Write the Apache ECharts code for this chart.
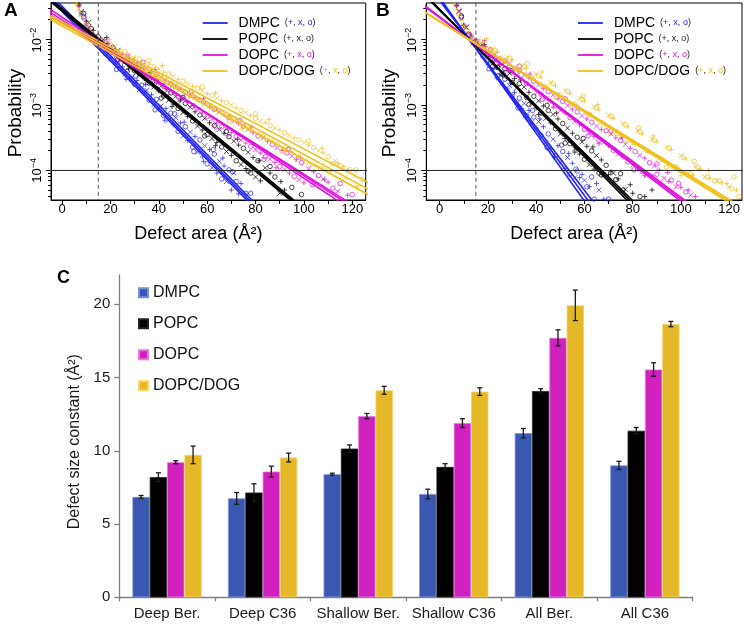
<!DOCTYPE html>
<html><head><meta charset="utf-8">
<script src="https://cdn.jsdelivr.net/npm/echarts@6.0.0/dist/echarts.min.js"></script>
<style>html,body{margin:0;padding:0;background:#fff}#c{width:744px;height:625px}</style>
</head><body><div id="c"></div>
<script>
// ---------- Panel A data (defect area, probability) ----------
const dmpcA_plus = [[7,3.39e-2],[10,1.70e-2],[13,1.17e-2],[16,7.41e-3],[19,6.76e-3],[22,4.47e-3],[25,3.89e-3],[28,2.57e-3],[31,2.40e-3],[34,1.55e-3],[37,1.45e-3],[40,8.71e-4],[43,8.91e-4],[46,5.01e-4],[49,5.37e-4],[52,2.88e-4],[55,3.31e-4],[58,1.62e-4],[61,2.09e-4],[64,9.12e-5],[67,1.17e-4],[70,5.01e-5],[74,6.31e-5]];
const dmpcA_plus2 = [[18.5,7.94e-3],[26.5,2.51e-3],[34.5,2.09e-3],[42.5,5.89e-4],[50.5,5.50e-4],[58.5,1.38e-4],[66.5,1.55e-4],[73,4.37e-5]];
const dmpcA_cross = [[8,2.51e-2],[11,1.58e-2],[14,9.33e-3],[17,7.76e-3],[20,5.25e-3],[23,4.68e-3],[26,3.02e-3],[29,2.75e-3],[32,1.74e-3],[35,1.70e-3],[38,1.02e-3],[41,9.77e-4],[44,5.89e-4],[47,6.46e-4],[50,3.39e-4],[53,3.89e-4],[56,1.91e-4],[59,2.40e-4],[62,1.10e-4],[65,1.38e-4],[68,6.76e-5],[71,9.12e-5]];
const dmpcA_circle = [[9,2.29e-2],[12,1.23e-2],[15,9.33e-3],[18,6.17e-3],[21,5.62e-3],[24,3.63e-3],[27,3.31e-3],[30,2.09e-3],[33,2.04e-3],[36,1.20e-3],[39,1.23e-3],[42,6.92e-4],[45,7.59e-4],[48,3.98e-4],[51,4.68e-4],[54,2.29e-4],[57,2.95e-4],[60,1.26e-4],[63,1.78e-4],[66,7.41e-5],[69,1.02e-4],[72,6.76e-5],[76,4.47e-5]];
const dmpcA_circle2 = [[22.5,3.55e-3],[30.5,2.82e-3],[38.5,8.51e-4],[46.5,7.41e-4],[54.5,1.95e-4],[62.5,2.09e-4],[70.5,9.55e-5],[78,4.47e-5]];
const popcA_plus = [[7,3.55e-2],[10,1.95e-2],[13,1.41e-2],[16,9.77e-3],[19,8.91e-3],[22,6.31e-3],[25,6.03e-3],[28,3.98e-3],[31,3.80e-3],[34,2.57e-3],[37,2.63e-3],[40,1.66e-3],[43,1.78e-3],[46,1.05e-3],[49,1.20e-3],[52,6.76e-4],[55,7.94e-4],[58,4.17e-4],[61,5.37e-4],[64,2.69e-4],[67,3.72e-4],[70,1.70e-4],[73,2.45e-4],[76,1.07e-4],[79,1.58e-4],[82,6.92e-5],[86,9.12e-5],[92,5.01e-5]];
const popcA_plus2 = [[18.5,1.10e-2],[27.5,3.63e-3],[36.5,3.16e-3],[45.5,9.55e-4],[54.5,1.00e-3],[63.5,2.40e-4],[72.5,3.02e-4],[81.5,1.41e-4],[90.5,6.76e-5]];
const popcA_cross = [[8,2.75e-2],[11,1.86e-2],[14,1.17e-2],[17,1.02e-2],[20,7.24e-3],[23,6.92e-3],[26,4.68e-3],[29,4.47e-3],[32,2.95e-3],[35,3.02e-3],[38,1.91e-3],[41,2.00e-3],[44,1.20e-3],[47,1.38e-3],[50,7.76e-4],[53,9.33e-4],[56,4.79e-4],[59,6.31e-4],[62,3.09e-4],[65,4.27e-4],[68,1.95e-4],[71,2.82e-4],[74,1.23e-4],[77,1.91e-4],[80,7.94e-5],[84,1.10e-4],[90,4.47e-5]];
const popcA_circle = [[9,2.57e-2],[12,1.51e-2],[15,1.12e-2],[18,8.32e-3],[21,7.76e-3],[24,5.37e-3],[27,5.13e-3],[30,3.39e-3],[33,3.47e-3],[36,2.19e-3],[39,2.34e-3],[42,1.38e-3],[45,1.55e-3],[48,8.91e-4],[51,1.07e-3],[54,5.75e-4],[57,7.08e-4],[60,3.55e-4],[63,4.90e-4],[66,2.29e-4],[69,3.31e-4],[72,1.41e-4],[75,2.19e-4],[78,9.12e-5],[81,1.41e-4],[88,7.94e-5],[99,4.27e-5]];
const popcA_circle2 = [[23,5.01e-3],[32,4.27e-3],[41,1.29e-3],[50,1.32e-3],[59,3.39e-4],[68,3.98e-4],[77,9.77e-5],[86,1.15e-4],[95,5.50e-5]];
const dopcA_plus = [[7,3.31e-2],[10,1.78e-2],[13,1.23e-2],[16,8.91e-3],[19,8.51e-3],[22,6.17e-3],[25,6.03e-3],[28,4.37e-3],[31,4.47e-3],[34,3.09e-3],[37,3.31e-3],[40,2.19e-3],[43,2.40e-3],[46,1.55e-3],[49,1.78e-3],[52,1.10e-3],[55,1.32e-3],[58,7.59e-4],[61,9.55e-4],[64,5.37e-4],[67,7.08e-4],[70,3.80e-4],[73,5.25e-4],[76,2.63e-4],[79,3.80e-4],[82,1.86e-4],[85,2.82e-4],[88,1.32e-4],[91,2.04e-4],[94,9.12e-5],[97,1.48e-4],[100,6.46e-5],[104,9.55e-5],[110,6.61e-5],[118,4.17e-5]];
const dopcA_plus2 = [[18.5,1.02e-2],[28.5,3.72e-3],[38.5,3.55e-3],[48.5,1.15e-3],[58.5,1.26e-3],[68.5,3.47e-4],[78.5,4.68e-4],[88.5,1.10e-4],[98.5,1.58e-4],[108.5,7.24e-5]];
const dopcA_cross = [[8,2.63e-2],[11,1.48e-2],[14,1.05e-2],[17,9.33e-3],[20,6.92e-3],[23,6.61e-3],[26,4.90e-3],[29,5.01e-3],[32,3.55e-3],[35,3.63e-3],[38,2.45e-3],[41,2.69e-3],[44,1.74e-3],[47,1.95e-3],[50,1.23e-3],[53,1.45e-3],[56,8.51e-4],[59,1.07e-3],[62,6.03e-4],[65,7.94e-4],[68,4.27e-4],[71,5.75e-4],[74,2.95e-4],[77,4.27e-4],[80,2.09e-4],[83,3.16e-4],[86,1.48e-4],[89,2.24e-4],[92,1.02e-4],[95,1.66e-4],[98,7.24e-5],[102,1.07e-4],[108,7.41e-5],[114,4.79e-5]];
const dopcA_circle = [[9,2.19e-2],[12,1.26e-2],[15,1.00e-2],[18,7.76e-3],[21,7.59e-3],[24,5.50e-3],[27,5.62e-3],[30,3.89e-3],[33,4.07e-3],[36,2.75e-3],[39,2.95e-3],[42,1.95e-3],[45,2.14e-3],[48,1.35e-3],[51,1.58e-3],[54,9.55e-4],[57,1.20e-3],[60,6.76e-4],[63,8.71e-4],[66,4.68e-4],[69,6.46e-4],[72,3.31e-4],[75,4.79e-4],[78,2.34e-4],[81,3.39e-4],[84,1.62e-4],[87,2.51e-4],[90,1.15e-4],[93,1.86e-4],[96,8.13e-5],[99,1.32e-4],[106,8.32e-5],[112,5.37e-5],[120,4.27e-5]];
const dopcA_circle2 = [[23.5,4.90e-3],[33.5,4.57e-3],[43.5,1.51e-3],[53.5,1.62e-3],[63.5,4.68e-4],[73.5,5.89e-4],[83.5,1.48e-4],[93.5,2.09e-4],[103.5,6.03e-5],[115,6.31e-5]];
const dogA_plus = [[6,3.55e-2],[9,2.09e-2],[12,1.35e-2],[15,9.77e-3],[18,9.33e-3],[21,7.08e-3],[24,7.24e-3],[27,5.25e-3],[30,5.50e-3],[33,3.98e-3],[36,4.27e-3],[39,2.95e-3],[42,3.24e-3],[45,2.19e-3],[48,2.51e-3],[51,1.66e-3],[54,1.95e-3],[57,1.23e-3],[60,1.51e-3],[63,9.12e-4],[66,1.17e-3],[69,6.76e-4],[72,9.12e-4],[75,5.01e-4],[78,6.92e-4],[81,3.72e-4],[84,5.37e-4],[87,2.75e-4],[90,4.17e-4],[93,2.04e-4],[96,3.16e-4],[99,1.51e-4],[102,2.45e-4],[105,1.17e-4],[108,1.86e-4],[111,9.77e-5],[114,1.29e-4],[118,1.02e-4],[122,5.62e-5]];
const dogA_plus2 = [[19.5,1.02e-2],[30.5,3.89e-3],[41.5,4.07e-3],[52.5,1.32e-3],[63.5,1.55e-3],[74.5,4.37e-4],[85.5,6.03e-4],[96.5,1.45e-4],[107.5,2.19e-4],[116.5,1.15e-4]];
const dogA_cross = [[7,3.02e-2],[10,1.74e-2],[13,1.12e-2],[16,1.02e-2],[19,7.76e-3],[22,7.94e-3],[25,5.75e-3],[28,6.03e-3],[31,4.27e-3],[34,4.68e-3],[37,3.24e-3],[40,3.63e-3],[43,2.40e-3],[46,2.75e-3],[49,1.78e-3],[52,2.14e-3],[55,1.32e-3],[58,1.66e-3],[61,9.77e-4],[64,1.29e-3],[67,7.24e-4],[70,1.00e-3],[73,5.50e-4],[76,7.76e-4],[79,3.98e-4],[82,5.75e-4],[85,2.95e-4],[88,4.47e-4],[91,2.19e-4],[94,3.47e-4],[97,1.66e-4],[100,2.69e-4],[103,1.23e-4],[106,2.00e-4],[109,1.02e-4],[113,1.41e-4],[117,7.76e-5],[121,8.32e-5]];
const dogA_circle = [[8,2.45e-2],[11,1.48e-2],[14,1.07e-2],[17,8.71e-3],[20,8.51e-3],[23,6.46e-3],[26,6.61e-3],[29,4.79e-3],[32,5.13e-3],[35,3.55e-3],[38,3.89e-3],[41,2.63e-3],[44,3.02e-3],[47,2.00e-3],[50,2.34e-3],[53,1.48e-3],[56,1.82e-3],[59,1.10e-3],[62,1.41e-3],[65,8.13e-4],[68,1.10e-3],[71,6.03e-4],[74,8.32e-4],[77,4.47e-4],[80,6.31e-4],[83,3.31e-4],[86,4.90e-4],[89,2.45e-4],[92,3.80e-4],[95,1.82e-4],[98,2.95e-4],[101,1.35e-4],[104,2.24e-4],[107,1.07e-4],[110,1.62e-4],[115,1.17e-4],[119,1.02e-4],[124,7.24e-5]];
const dogA_circle2 = [[25,5.01e-3],[36,4.90e-3],[47,1.70e-3],[58,1.91e-3],[69,5.75e-4],[80,7.41e-4],[91,1.95e-4],[102,2.82e-4],[112,1.26e-4],[121.5,1.02e-4]];
// fitted lines, panel A (two end points each)
const dmpcA_fits = [[[-10,0.0658],[90,1.07e-5]],[[-10,0.0718],[90,1.16e-5]],[[-10,0.0791],[90,1.28e-5]]];
const popcA_fits = [[[-10,0.0562],[110,1.16e-5]],[[-10,0.0590],[110,1.22e-5]],[[-10,0.0621],[110,1.29e-5]]];
const dopcA_fits = [[[-10,0.0396],[135,1.04e-5]],[[-10,0.0355],[135,1.21e-5]],[[-10,0.0321],[135,1.34e-5]]];
const dogA_fits  = [[[-10,0.0301],[135,4.43e-5]],[[-10,0.0283],[135,3.48e-5]],[[-10,0.0263],[135,2.87e-5]]];

// ---------- Panel B data ----------
const dmpcB_plus = [[7,3.47e-2],[10,1.70e-2],[13,1.10e-2],[16,7.08e-3],[19,5.75e-3],[22,3.55e-3],[25,3.02e-3],[28,1.78e-3],[31,1.58e-3],[34,8.91e-4],[37,8.32e-4],[40,4.47e-4],[43,4.68e-4],[46,2.14e-4],[49,2.40e-4],[52,1.07e-4],[55,1.29e-4],[58,7.76e-5],[62,5.62e-5],[68,3.63e-5]];
const dmpcB_plus2 = [[17.5,8.13e-3],[23.5,2.63e-3],[29.5,2.19e-3],[35.5,6.46e-4],[41.5,6.17e-4],[47.5,1.58e-4],[53.5,1.82e-4],[59,8.71e-5],[65,6.31e-5]];
const dmpcB_cross = [[8,2.82e-2],[11,1.55e-2],[14,9.12e-3],[17,7.24e-3],[20,4.47e-3],[23,3.80e-3],[26,2.19e-3],[29,2.00e-3],[32,1.10e-3],[35,1.07e-3],[38,5.37e-4],[41,5.62e-4],[44,2.69e-4],[47,3.02e-4],[50,1.32e-4],[53,1.58e-4],[56,7.76e-5],[60,7.08e-5],[66,5.01e-5]];
const dmpcB_circle = [[9,2.24e-2],[12,1.17e-2],[15,8.91e-3],[18,5.62e-3],[21,4.79e-3],[24,2.82e-3],[27,2.51e-3],[30,1.38e-3],[33,1.29e-3],[36,6.92e-4],[39,6.61e-4],[42,3.47e-4],[45,3.63e-4],[48,1.70e-4],[51,1.95e-4],[54,8.71e-5],[57,9.77e-5],[61,5.62e-5],[64,3.63e-5]];
const dmpcB_circle2 = [[20.5,3.63e-3],[26.5,2.95e-3],[32.5,9.12e-4],[38.5,8.32e-4],[44.5,2.24e-4],[50.5,2.45e-4],[56.5,1.05e-4],[63,7.94e-5],[70,3.63e-5]];
const popcB_plus = [[7,3.39e-2],[10,1.66e-2],[13,1.15e-2],[16,7.76e-3],[19,6.92e-3],[22,4.57e-3],[25,4.27e-3],[28,2.63e-3],[31,2.57e-3],[34,1.55e-3],[37,1.58e-3],[40,9.12e-4],[43,9.77e-4],[46,5.37e-4],[49,6.17e-4],[52,3.09e-4],[55,3.72e-4],[58,1.78e-4],[61,2.34e-4],[64,1.05e-4],[67,1.45e-4],[70,8.71e-5],[74,7.41e-5],[80,4.47e-5],[85,3.98e-5]];
const popcB_plus2 = [[18.5,8.51e-3],[26,2.82e-3],[33.5,2.45e-3],[41,7.24e-4],[48.5,7.59e-4],[56,1.91e-4],[63.5,2.29e-4],[71,9.55e-5],[79,6.03e-5],[88,5.01e-5]];
const popcB_cross = [[8,2.75e-2],[11,1.58e-2],[14,9.33e-3],[17,8.13e-3],[20,5.37e-3],[23,5.01e-3],[26,3.16e-3],[29,3.09e-3],[32,1.86e-3],[35,1.91e-3],[38,1.07e-3],[41,1.17e-3],[44,6.31e-4],[47,7.24e-4],[50,3.63e-4],[53,4.47e-4],[56,2.14e-4],[59,2.75e-4],[62,1.23e-4],[65,1.70e-4],[68,8.71e-5],[72,9.12e-5],[77,5.13e-5]];
const popcB_circle = [[9,2.34e-2],[12,1.23e-2],[15,9.55e-3],[18,6.61e-3],[21,5.89e-3],[24,3.80e-3],[27,3.63e-3],[30,2.24e-3],[33,2.14e-3],[36,1.32e-3],[39,1.38e-3],[42,7.59e-4],[45,8.32e-4],[48,4.37e-4],[51,5.25e-4],[54,2.57e-4],[57,3.24e-4],[60,1.48e-4],[63,2.00e-4],[66,9.12e-5],[69,1.20e-4],[73,7.24e-5],[76,5.01e-5]];
const popcB_circle2 = [[22,3.98e-3],[29.5,3.39e-3],[37,1.02e-3],[44.5,1.00e-3],[52,2.63e-4],[59.5,3.09e-4],[67,8.51e-5],[75,8.91e-5],[83,3.98e-5]];
const dopcB_plus = [[7,3.31e-2],[10,1.70e-2],[13,1.20e-2],[16,8.32e-3],[19,7.94e-3],[22,5.50e-3],[25,5.25e-3],[28,3.80e-3],[31,3.63e-3],[34,2.51e-3],[37,2.63e-3],[40,1.66e-3],[43,1.82e-3],[46,1.15e-3],[49,1.26e-3],[52,7.59e-4],[55,8.71e-4],[58,5.01e-4],[61,6.17e-4],[64,3.31e-4],[67,4.27e-4],[70,2.40e-4],[73,3.16e-4],[76,1.58e-4],[79,2.19e-4],[82,1.05e-4],[85,1.55e-4],[88,8.32e-5],[91,1.02e-4],[95,6.76e-5],[100,5.50e-5],[106,3.98e-5]];
const dopcB_plus2 = [[18.5,9.77e-3],[28,3.39e-3],[37.5,3.02e-3],[47,9.33e-4],[56.5,9.55e-4],[66,2.57e-4],[75.5,3.16e-4],[85,8.32e-5],[94.5,9.33e-5],[103,5.01e-5]];
const dopcB_cross = [[8,2.69e-2],[11,1.58e-2],[14,1.00e-2],[17,8.91e-3],[20,6.31e-3],[23,6.03e-3],[26,4.17e-3],[29,4.37e-3],[32,2.88e-3],[35,2.95e-3],[38,1.91e-3],[41,2.04e-3],[44,1.26e-3],[47,1.45e-3],[50,8.32e-4],[53,1.00e-3],[56,5.62e-4],[59,6.92e-4],[62,3.72e-4],[65,4.79e-4],[68,2.69e-4],[71,3.63e-4],[74,1.78e-4],[77,2.51e-4],[80,1.20e-4],[83,1.70e-4],[86,8.51e-5],[89,1.17e-4],[93,7.59e-5],[98,5.62e-5],[104,4.17e-5]];
const dopcB_circle = [[9,2.24e-2],[12,1.23e-2],[15,9.77e-3],[18,7.41e-3],[21,7.08e-3],[24,4.90e-3],[27,4.79e-3],[30,3.24e-3],[33,3.39e-3],[36,2.14e-3],[39,2.34e-3],[42,1.48e-3],[45,1.62e-3],[48,9.77e-4],[51,1.15e-3],[54,6.46e-4],[57,7.94e-4],[60,4.27e-4],[63,5.50e-4],[66,2.88e-4],[69,4.07e-4],[72,2.04e-4],[75,2.88e-4],[78,1.35e-4],[81,1.95e-4],[84,9.55e-5],[87,1.32e-4],[90,8.71e-5],[96,7.08e-5],[102,4.68e-5]];
const dopcB_circle2 = [[23.5,4.47e-3],[33,3.98e-3],[42.5,1.23e-3],[52,1.26e-3],[61.5,3.39e-4],[71,4.07e-4],[80.5,1.02e-4],[90,1.26e-4],[99,6.31e-5]];
const dogB_plus = [[6,3.55e-2],[9,2.00e-2],[12,1.35e-2],[15,9.55e-3],[18,9.12e-3],[21,6.76e-3],[24,6.61e-3],[27,4.90e-3],[30,5.01e-3],[33,3.47e-3],[36,3.72e-3],[39,2.51e-3],[42,2.69e-3],[45,1.78e-3],[48,2.00e-3],[51,1.32e-3],[54,1.51e-3],[57,9.77e-4],[60,1.17e-3],[63,6.92e-4],[66,8.51e-4],[69,4.90e-4],[72,6.31e-4],[75,3.47e-4],[78,4.68e-4],[81,2.51e-4],[84,3.63e-4],[87,1.91e-4],[90,2.75e-4],[93,1.41e-4],[96,2.09e-4],[99,1.02e-4],[102,1.51e-4],[105,8.51e-5],[108,1.05e-4],[112,7.59e-5],[117,6.46e-5],[123,5.01e-5]];
const dogB_plus2 = [[19.5,1.05e-2],[31,3.55e-3],[42.5,3.24e-3],[54,1.00e-3],[65.5,1.02e-3],[77,2.75e-4],[88.5,3.39e-4],[100,8.32e-5],[111.5,1.00e-4],[119,6.31e-5]];
const dogB_cross = [[7,3.02e-2],[10,1.66e-2],[13,1.12e-2],[16,1.02e-2],[19,7.59e-3],[22,7.41e-3],[25,5.37e-3],[28,5.50e-3],[31,3.80e-3],[34,4.07e-3],[37,2.82e-3],[40,3.02e-3],[43,2.00e-3],[46,2.24e-3],[49,1.48e-3],[52,1.70e-3],[55,1.07e-3],[58,1.29e-3],[61,7.59e-4],[64,9.33e-4],[67,5.50e-4],[70,7.08e-4],[73,3.89e-4],[76,5.25e-4],[79,2.82e-4],[82,4.07e-4],[85,2.09e-4],[88,3.02e-4],[91,1.55e-4],[94,2.29e-4],[97,1.15e-4],[100,1.70e-4],[103,9.12e-5],[106,1.17e-4],[110,7.94e-5],[115,6.92e-5],[120,5.62e-5]];
const dogB_circle = [[8,2.51e-2],[11,1.55e-2],[14,1.02e-2],[17,9.55e-3],[20,7.24e-3],[23,6.92e-3],[26,5.13e-3],[29,5.25e-3],[32,3.63e-3],[35,3.89e-3],[38,2.63e-3],[41,2.82e-3],[44,1.86e-3],[47,2.14e-3],[50,1.41e-3],[53,1.62e-3],[56,1.02e-3],[59,1.23e-3],[62,7.24e-4],[65,9.12e-4],[68,5.13e-4],[71,6.76e-4],[74,3.63e-4],[77,5.01e-4],[80,2.69e-4],[83,3.89e-4],[86,2.00e-4],[89,2.88e-4],[92,1.48e-4],[95,2.19e-4],[98,1.12e-4],[101,1.58e-4],[104,8.91e-5],[107,1.12e-4],[111,7.94e-5],[116,6.92e-5],[121,5.25e-5],[124,3.98e-5]];
const dogB_circle2 = [[25,4.90e-3],[36.5,4.37e-3],[48,1.35e-3],[59.5,1.38e-3],[71,3.72e-4],[82.5,4.47e-4],[94,1.12e-4],[105.5,1.38e-4],[114,6.92e-5],[122,7.94e-5]];
const dmpcB_fits = [[[-10,0.148],[80,3.09e-6]],[[-10,0.123],[80,5.3e-6]],[[-10,0.135],[80,4.09e-6]]];
const popcB_fits = [[[-10,0.0705],[100,5.02e-6]],[[-10,0.0684],[100,5.68e-6]],[[-10,0.0662],[100,6.4e-6]]];
const dopcB_fits = [[[-10,0.0433],[135,3.45e-6]],[[-10,0.0425],[135,3.82e-6]],[[-10,0.0417],[135,4.2e-6]]];
const dogB_fits  = [[[-10,0.0333],[135,1.43e-5]],[[-10,0.0330],[135,1.52e-5]],[[-10,0.0325],[135,1.64e-5]]];
// reference lines (cut-off area and probability threshold)
const cutArea = 15;
const probThreshold = 1e-4;

// ---------- Panel C data ----------
const categories = ['Deep Ber.', 'Deep C36', 'Shallow Ber.', 'Shallow C36', 'All Ber.', 'All C36'];
const lipids = ['DMPC', 'POPC', 'DOPC', 'DOPC/DOG'];
const dmpcBar = [6.85, 6.75, 8.40, 7.05, 11.20, 9.00];
const dmpcErr = [0.10, 0.40, 0.07, 0.33, 0.32, 0.28];
const popcBar = [8.20, 7.15, 10.15, 8.90, 14.08, 11.37];
const popcErr = [0.30, 0.60, 0.25, 0.22, 0.16, 0.22];
const dopcBar = [9.22, 8.58, 12.37, 11.89, 17.71, 15.55];
const dopcErr = [0.10, 0.37, 0.18, 0.30, 0.55, 0.46];
const dogBar  = [9.72, 9.54, 14.13, 14.04, 19.93, 18.65];
const dogErr  = [0.60, 0.30, 0.27, 0.26, 1.04, 0.18];
const xTicksAB = [0, 20, 40, 60, 80, 100, 120];
const xMinorAB = [0, 10, 20, 30, 40, 50, 60, 70, 80, 90, 100, 110, 120];
const yTicksC = [0, 5, 10, 15, 20];

// ---------- styling ----------
const FONT = '"Liberation Sans", Arial, Helvetica, sans-serif';
const LINE_COL = {DMPC: '#2424f2', POPC: '#000000', DOPC: '#e012e0', 'DOPC/DOG': '#efc21a'};
const BAR_COL = {DMPC: '#3b58b1', POPC: '#000000', DOPC: '#d021bf', 'DOPC/DOG': '#e5b829'};
const BAR_BORDER = {DMPC: '#7a8fd0', POPC: '#222222', DOPC: '#e67ada', 'DOPC/DOG': '#f2d468'};
const RICH_KEY = {DMPC: 'cb', POPC: 'ck', DOPC: 'cm', 'DOPC/DOG': 'cy'};
const SYM = {
  plus: 'path://M0,5L10,5M5,0L5,10',
  cross: 'path://M0,0L10,10M10,0L0,10',
  circle: 'circle'
};
const P_MIN = 3.52e-5, P_MAX = 0.0371;
const L_MIN = Math.log10(P_MIN), L_MAX = Math.log10(P_MAX);
const minorLog = [];
for (let n = -5; n <= -1; n++) for (let k = 2; k <= 9; k++) {
  const v = n + Math.log10(k);
  if (v > L_MIN && v < L_MAX) minorLog.push(v);
}

const chart = echarts.init(document.getElementById('c'), null, {renderer: 'canvas'});

function expFmt(v) {
  const e = Math.log10(v), r = Math.round(e);
  if (Math.abs(e - r) > 0.002) return '';
  return '{b|10}{s|\u2212' + Math.abs(r) + '}';
}
function legendFmt(name) {
  const k = RICH_KEY[name];
  return '{n|' + name + '}{q|(}{' + k + '|+}{p|, }{' + k + '|x}{p|, }{' + k + '|o}{p|)}';
}

function logYAxis(gi, gap) {
  return {type: 'log', gridIndex: gi, logBase: 10, min: P_MIN, max: P_MAX, position: 'left',
     axisLine: {show: true, onZero: false, lineStyle: {color: '#000', width: 1}},
     axisTick: {show: false}, splitLine: {show: false},
     axisLabel: {rotate: 90, margin: 6, formatter: expFmt,
       rich: {b: {fontSize: 13, lineHeight: 16, color: '#000', fontFamily: FONT},
              s: {fontSize: 9, lineHeight: 10, verticalAlign: 'top', color: '#000', fontFamily: FONT}}},
     name: 'Probability', nameLocation: 'middle', nameGap: gap,
     nameTextStyle: {fontSize: 19, color: '#000', fontFamily: FONT, padding: [0, 23, 0, 0]}};
}
// tick-only helper axes (log10 positions of decade and sub-decade ticks), on an overlay grid
function tickAxes(gi) {
  return [
    {type: 'value', gridIndex: gi, min: L_MIN, max: L_MAX, position: 'left', offset: 0,
     axisLine: {show: false, onZero: false}, axisLabel: {show: false}, splitLine: {show: false},
     axisTick: {show: true, length: 5, customValues: [-4, -3, -2], lineStyle: {color: '#000'}}},
    {type: 'value', gridIndex: gi, min: L_MIN, max: L_MAX, position: 'left', offset: 0,
     axisLine: {show: false, onZero: false}, axisLabel: {show: false}, splitLine: {show: false},
     axisTick: {show: true, length: 3, customValues: minorLog, lineStyle: {color: '#000'}}}
  ];
}
function abXAxis(gi, mn, mx) {
  return {type: 'value', gridIndex: gi, min: mn, max: mx, position: 'bottom',
    axisLine: {show: true, onZero: false, lineStyle: {color: '#000', width: 1}},
    axisTick: {show: true, length: 4, customValues: xMinorAB, lineStyle: {color: '#000'}},
    axisLabel: {customValues: xTicksAB, fontSize: 13, color: '#000', margin: 3, fontFamily: FONT},
    splitLine: {show: false},
    name: 'Defect area (\u00C5\u00B2)', nameLocation: 'middle', nameGap: 25,
    nameTextStyle: {fontSize: 18, color: '#000', fontFamily: FONT, padding: [0, 20, 0, 0]}};
}

const series = [];
function addScatter(data, sym, lip, xi, yi) {
  series.push({type: 'scatter', name: lip + ' ' + sym, xAxisIndex: xi, yAxisIndex: yi, data: data,
    symbol: SYM[sym], symbolSize: sym === 'circle' ? 4.5 : 5, silent: true,
    itemStyle: {color: 'none', borderColor: LINE_COL[lip], borderWidth: 0.9}});
}
function addFits(fits, lip, xi, yi) {
  fits.forEach((f) => {
    series.push({type: 'line', name: lip, xAxisIndex: xi, yAxisIndex: yi, data: f,
      symbol: 'none', showSymbol: false, silent: true, clip: true,
      lineStyle: {color: LINE_COL[lip], width: 1.6}, itemStyle: {color: LINE_COL[lip]}});
  });
}
function addRefLines(xi, yi, xmn, xmx) {
  series.push({type: 'line', name: 'threshold', xAxisIndex: xi, yAxisIndex: yi,
    data: [[xmn, probThreshold], [xmx, probThreshold]], symbol: 'none', silent: true, clip: true,
    lineStyle: {color: '#222', width: 1}});
  series.push({type: 'line', name: 'cut', xAxisIndex: xi, yAxisIndex: yi,
    data: [[cutArea, 1e-6], [cutArea, 1]], symbol: 'none', silent: true, clip: true,
    lineStyle: {color: '#555', width: 1, type: [4, 3]}});
}
// Panel A
[[dmpcA_plus.concat(dmpcA_plus2), dmpcA_cross, dmpcA_circle.concat(dmpcA_circle2), 'DMPC'],
 [popcA_plus.concat(popcA_plus2), popcA_cross, popcA_circle.concat(popcA_circle2), 'POPC'],
 [dopcA_plus.concat(dopcA_plus2), dopcA_cross, dopcA_circle.concat(dopcA_circle2), 'DOPC'],
 [dogA_plus.concat(dogA_plus2), dogA_cross, dogA_circle.concat(dogA_circle2), 'DOPC/DOG']]
 .forEach(([p, x, o, lip]) => { addScatter(p, 'plus', lip, 0, 0); addScatter(x, 'cross', lip, 0, 0); addScatter(o, 'circle', lip, 0, 0); });
addFits(dmpcA_fits, 'DMPC', 0, 0);
addFits(popcA_fits, 'POPC', 0, 0);
addFits(dopcA_fits, 'DOPC', 0, 0);
addFits(dogA_fits, 'DOPC/DOG', 0, 0);
addRefLines(0, 0, -10, 140);
// Panel B
[[dmpcB_plus.concat(dmpcB_plus2), dmpcB_cross, dmpcB_circle.concat(dmpcB_circle2), 'DMPC'],
 [popcB_plus.concat(popcB_plus2), popcB_cross, popcB_circle.concat(popcB_circle2), 'POPC'],
 [dopcB_plus.concat(dopcB_plus2), dopcB_cross, dopcB_circle.concat(dopcB_circle2), 'DOPC'],
 [dogB_plus.concat(dogB_plus2), dogB_cross, dogB_circle.concat(dogB_circle2), 'DOPC/DOG']]
 .forEach(([p, x, o, lip]) => { addScatter(p, 'plus', lip, 1, 1); addScatter(x, 'cross', lip, 1, 1); addScatter(o, 'circle', lip, 1, 1); });
addFits(dmpcB_fits, 'DMPC', 1, 1);
addFits(popcB_fits, 'POPC', 1, 1);
addFits(dopcB_fits, 'DOPC', 1, 1);
addFits(dogB_fits, 'DOPC/DOG', 1, 1);
addRefLines(1, 1, -10, 140);
// Panel C bars + error bars
const barVals = [dmpcBar, popcBar, dopcBar, dogBar];
const barErrs = [dmpcErr, popcErr, dopcErr, dogErr];
lipids.forEach((lip, i) => {
  series.push({type: 'bar', name: 'C:' + lip, xAxisIndex: 2, yAxisIndex: 2, data: barVals[i],
    barGap: '0%', barCategoryGap: '27.5%', silent: true,
    itemStyle: {color: BAR_COL[lip], borderColor: BAR_BORDER[lip], borderWidth: 0.8}});
});
lipids.forEach((lip, idx) => {
  series.push({type: 'custom', name: 'err' + idx, xAxisIndex: 2, yAxisIndex: 2, silent: true, z: 5,
    data: categories.map((c, i) => [i, barVals[idx][i] - barErrs[idx][i], barVals[idx][i] + barErrs[idx][i]]),
    renderItem: function (params, api) {
      const xi = api.value(0);
      const lo = api.coord([xi, api.value(1)]);
      const hi = api.coord([xi, api.value(2)]);
      const band = api.size([1, 0])[0];
      const gw = band * 0.725, bw = gw / 4;
      const x = lo[0] - gw / 2 + bw * (idx + 0.5);
      const st = {stroke: '#1a1a1a', lineWidth: 1.3};
      return {type: 'group', children: [
        {type: 'line', shape: {x1: x, y1: lo[1], x2: x, y2: hi[1]}, style: st},
        {type: 'line', shape: {x1: x - 2.5, y1: lo[1], x2: x + 2.5, y2: lo[1]}, style: st},
        {type: 'line', shape: {x1: x - 2.5, y1: hi[1], x2: x + 2.5, y2: hi[1]}, style: st}
      ]};
    }});
});

const richLegend = {
  n: {fontSize: 14, lineHeight: 14, color: '#000', padding: [0, 0, 0, 6], fontFamily: FONT},
  q: {fontSize: 9, color: '#222', padding: [0, 0, 0, 5], fontFamily: FONT},
  p: {fontSize: 9, color: '#222', fontFamily: FONT},
  cb: {fontSize: 9, color: LINE_COL.DMPC, fontFamily: FONT},
  ck: {fontSize: 9, color: '#222', fontFamily: FONT},
  cm: {fontSize: 9, color: LINE_COL.DOPC, fontFamily: FONT},
  cy: {fontSize: 9, color: LINE_COL['DOPC/DOG'], fontFamily: FONT}
};
function abLegend(left) {
  return {data: lipids, orient: 'vertical', left: left, top: 16, padding: 0,
    itemWidth: 25, itemHeight: 10, itemGap: 2, selectedMode: false,
    itemStyle: {opacity: 0}, lineStyle: {width: 1.8},
    formatter: legendFmt, textStyle: {rich: richLegend, fontFamily: FONT}};
}

const gridA = {left: 51, top: 2, width: 314.7, height: 198};
const gridB = {left: 426.3, top: 2, width: 315.7, height: 198};
const option = {
  animation: false,
  backgroundColor: '#fff',
  textStyle: {fontFamily: FONT},
  grid: [
    Object.assign({show: true, borderColor: '#000', borderWidth: 1, containLabel: false}, gridA),
    Object.assign({show: true, borderColor: '#000', borderWidth: 1, containLabel: false}, gridB),
    {left: 119.3, top: 275, width: 573.4, height: 322.3, containLabel: false},
    Object.assign({show: false, containLabel: false}, gridA),
    Object.assign({show: false, containLabel: false}, gridB)
  ],
  xAxis: [
    abXAxis(0, -4.55, 125.55),
    abXAxis(1, -5.55, 125.3),
    {type: 'category', gridIndex: 2, data: categories,
     axisLine: {show: true, lineStyle: {color: '#808080', width: 1.3}},
     axisTick: {show: true, length: 4, lineStyle: {color: '#808080', width: 1.3}},
     axisLabel: {interval: 0, fontSize: 15, color: '#1a1a1a', margin: 9, fontFamily: FONT}},
    {type: 'value', gridIndex: 3, min: 0, max: 1, show: false},
    {type: 'value', gridIndex: 4, min: 0, max: 1, show: false}
  ],
  yAxis: [
    logYAxis(0, 26),
    logYAxis(1, 27.5),
    {type: 'value', gridIndex: 2, min: 0, max: 22, interval: 5, position: 'left',
     axisLine: {show: true, lineStyle: {color: '#808080', width: 1.3}},
     axisTick: {show: true, length: 5, customValues: yTicksC, lineStyle: {color: '#808080', width: 1.3}},
     axisLabel: {customValues: yTicksC, fontSize: 15, color: '#1a1a1a', margin: 9, fontFamily: FONT},
     splitLine: {show: false},
     name: 'Defect size constant (\u00C5\u00B2)', nameLocation: 'middle', nameGap: 37,
     nameTextStyle: {fontSize: 16, color: '#1a1a1a', fontFamily: FONT, padding: [0, 11, 0, 0]}}
  ].concat(tickAxes(3), tickAxes(4)),
  legend: [
    abLegend(201.7),
    abLegend(577),
    {data: lipids.map(l => 'C:' + l), orient: 'vertical', left: 138, top: 282.7, padding: 0,
     icon: 'rect', itemWidth: 9, itemHeight: 9, itemGap: 11, selectedMode: false,
     formatter: n => n.slice(2), textStyle: {fontSize: 16, lineHeight: 20, color: '#111', fontFamily: FONT}}
  ],
  graphic: [
    {type: 'text', left: 4, top: 1, style: {text: 'A', font: 'bold 19px ' + FONT, fill: '#000'}},
    {type: 'text', left: 376, top: 1, style: {text: 'B', font: 'bold 19px ' + FONT, fill: '#000'}},
    {type: 'text', left: 57, top: 269, style: {text: 'C', font: 'bold 18px ' + FONT, fill: '#000'}}
  ],
  series: series
};
chart.setOption(option);
</script></body></html>
